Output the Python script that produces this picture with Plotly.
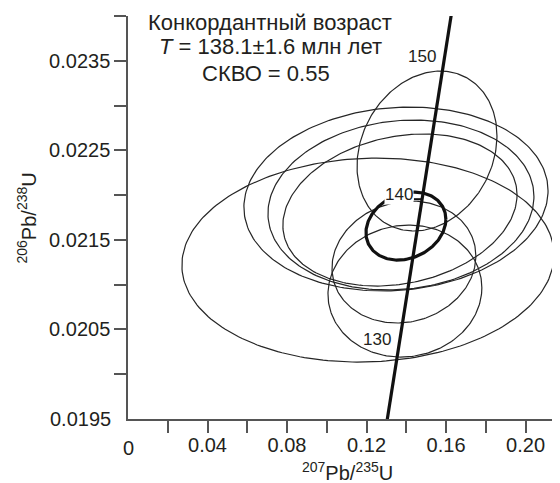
import numpy as np
import plotly.graph_objects as go

# --- data -------------------------------------------------------------
# error ellipses: centre (207Pb/235U, 206Pb/238U), half-axes and correlation
ell_x = [0.1207, 0.1348, 0.1373, 0.1368, 0.1504, 0.1388, 0.1393]
ell_y = [0.021275, 0.021957, 0.021890, 0.021834, 0.022493, 0.021253, 0.020929]
ell_sx = [0.0936, 0.0765, 0.0669, 0.0589, 0.0352, 0.0362, 0.0387]
ell_sy = [0.001139, 0.001027, 0.000949, 0.000849, 0.000893, 0.000681, 0.000737]
ell_rho = [0.05, 0.09, 0.10, 0.20, 0.19, 0.10, 0.05]

# concordia age ellipse
conc_x, conc_y, conc_sx, conc_sy, conc_rho = 0.1398, 0.021655, 0.0201, 0.000380, 0.20

# concordia curve (ages in Ma) and labelled ages
ages_ma = [124, 128, 132, 136, 140, 144, 148, 152, 154]
age_labels = ["130", "140", "150"]
age_label_x = [0.1253, 0.1363, 0.1479]
age_label_y = [0.020393, 0.022012, 0.023553]

x_tickvals = [0.02, 0.04, 0.06, 0.08, 0.10, 0.12, 0.14, 0.16, 0.18, 0.20]
x_ticktext = ["", "0.04", "", "0.08", "", "0.12", "", "0.16", "", "0.20"]
y_tickvals = [0.0200, 0.0205, 0.0210, 0.0215, 0.0220, 0.0225, 0.0230, 0.0235, 0.0240]
y_ticktext = ["", "0.0205", "", "0.0215", "", "0.0225", "", "0.0235", ""]

L238 = 1.55125e-10
L235 = 9.8485e-10

FONT = "Liberation Sans, Arial, sans-serif"
INK = "#231f20"


def ellipse(cx, cy, sx, sy, rho, n=240):
    t = np.linspace(0, 2 * np.pi, n)
    x = cx + sx * np.cos(t)
    y = cy + sy * (rho * np.cos(t) + np.sqrt(1 - rho ** 2) * np.sin(t))
    return x, y


fig = go.Figure()

for cx, cy, sx, sy, r in zip(ell_x, ell_y, ell_sx, ell_sy, ell_rho):
    ex, ey = ellipse(cx, cy, sx, sy, r)
    fig.add_trace(go.Scatter(x=ex, y=ey, mode="lines",
                             line=dict(color="#262626", width=1.2),
                             hoverinfo="skip", showlegend=False))

ex, ey = ellipse(conc_x, conc_y, conc_sx, conc_sy, conc_rho)
fig.add_trace(go.Scatter(x=ex, y=ey, mode="lines",
                         line=dict(color="#111111", width=3.2),
                         hoverinfo="skip", showlegend=False))

t = np.array(ages_ma, dtype=float) * 1e6
t_fine = np.linspace(t.min(), t.max(), 200)
cx_curve = np.exp(L235 * t_fine) - 1
cy_curve = np.exp(L238 * t_fine) - 1
fig.add_trace(go.Scatter(x=cx_curve, y=cy_curve, mode="lines",
                         line=dict(color="#111111", width=3.2),
                         hoverinfo="skip", showlegend=False))

# tick mark at 140 Ma
t140 = 140e6
x140 = np.exp(L235 * t140) - 1
y140 = np.exp(L238 * t140) - 1
fig.add_trace(go.Scatter(x=[x140 - 0.004, x140], y=[y140, y140], mode="lines",
                         line=dict(color="#111111", width=2),
                         hoverinfo="skip", showlegend=False))

ann = []
for lab, lx, ly in zip(age_labels, age_label_x, age_label_y):
    ann.append(dict(x=lx, y=ly, xref="x", yref="y", text=lab, showarrow=False,
                    xanchor="center", yanchor="middle",
                    font=dict(family=FONT, size=17, color=INK),
                    bgcolor="white" if lab == "140" else None, borderpad=0))

title_lines = ["Конкордантный возраст",
               "<i>T</i> = 138.1±1.6 млн лет",
               "СКВО = 0.55"]
title_x = [0.0714, 0.0719, 0.0694]
title_y = [0.023927, 0.023659, 0.023364]
for txt, tx, ty in zip(title_lines, title_x, title_y):
    ann.append(dict(x=tx, y=ty, xref="x", yref="y", text=txt, showarrow=False,
                    xanchor="center", yanchor="middle",
                    font=dict(family=FONT, size=22, color=INK)))

# axis titles and corner labels
ann.append(dict(x=-0.236, y=0.5, xref="paper", yref="paper",
                text="<sup>206</sup>Pb/<sup>238</sup>U", textangle=-90,
                xanchor="center", yanchor="middle",
                showarrow=False, font=dict(family=FONT, size=20, color=INK)))
ann.append(dict(x=0.512, y=-0.130, xref="paper", yref="paper",
                text="<sup>207</sup>Pb/<sup>235</sup>U",
                xanchor="center", yanchor="middle",
                showarrow=False, font=dict(family=FONT, size=20, color=INK)))
ann.append(dict(x=0, y=-0.073, xref="paper", yref="paper", text="0",
                xanchor="center", yanchor="middle",
                showarrow=False, font=dict(family=FONT, size=20, color=INK)))
ann.append(dict(x=-0.035, y=0, xref="paper", yref="paper", text="0.0195",
                xanchor="right", yanchor="middle", showarrow=False,
                font=dict(family=FONT, size=20, color=INK)))

axis_common = dict(showgrid=False, zeroline=False, showline=True,
                   linecolor="#555555", linewidth=1.5, ticks="outside",
                   ticklen=12, tickwidth=1.5, tickcolor="#555555",
                   automargin=False,
                   tickfont=dict(family=FONT, size=20, color=INK))

fig.update_layout(
    width=552, height=475,
    margin=dict(l=120, r=4, t=8, b=64),
    plot_bgcolor="white", paper_bgcolor="white",
    xaxis=dict(range=[0, 0.2153], tickmode="array", tickvals=x_tickvals,
               ticktext=x_ticktext, ticklabelstandoff=-5, **axis_common),
    yaxis=dict(range=[0.0195, 0.024001], tickmode="array", tickvals=y_tickvals,
               ticktext=y_ticktext, **axis_common),
    annotations=ann,
)

fig.write_html("out.html")
